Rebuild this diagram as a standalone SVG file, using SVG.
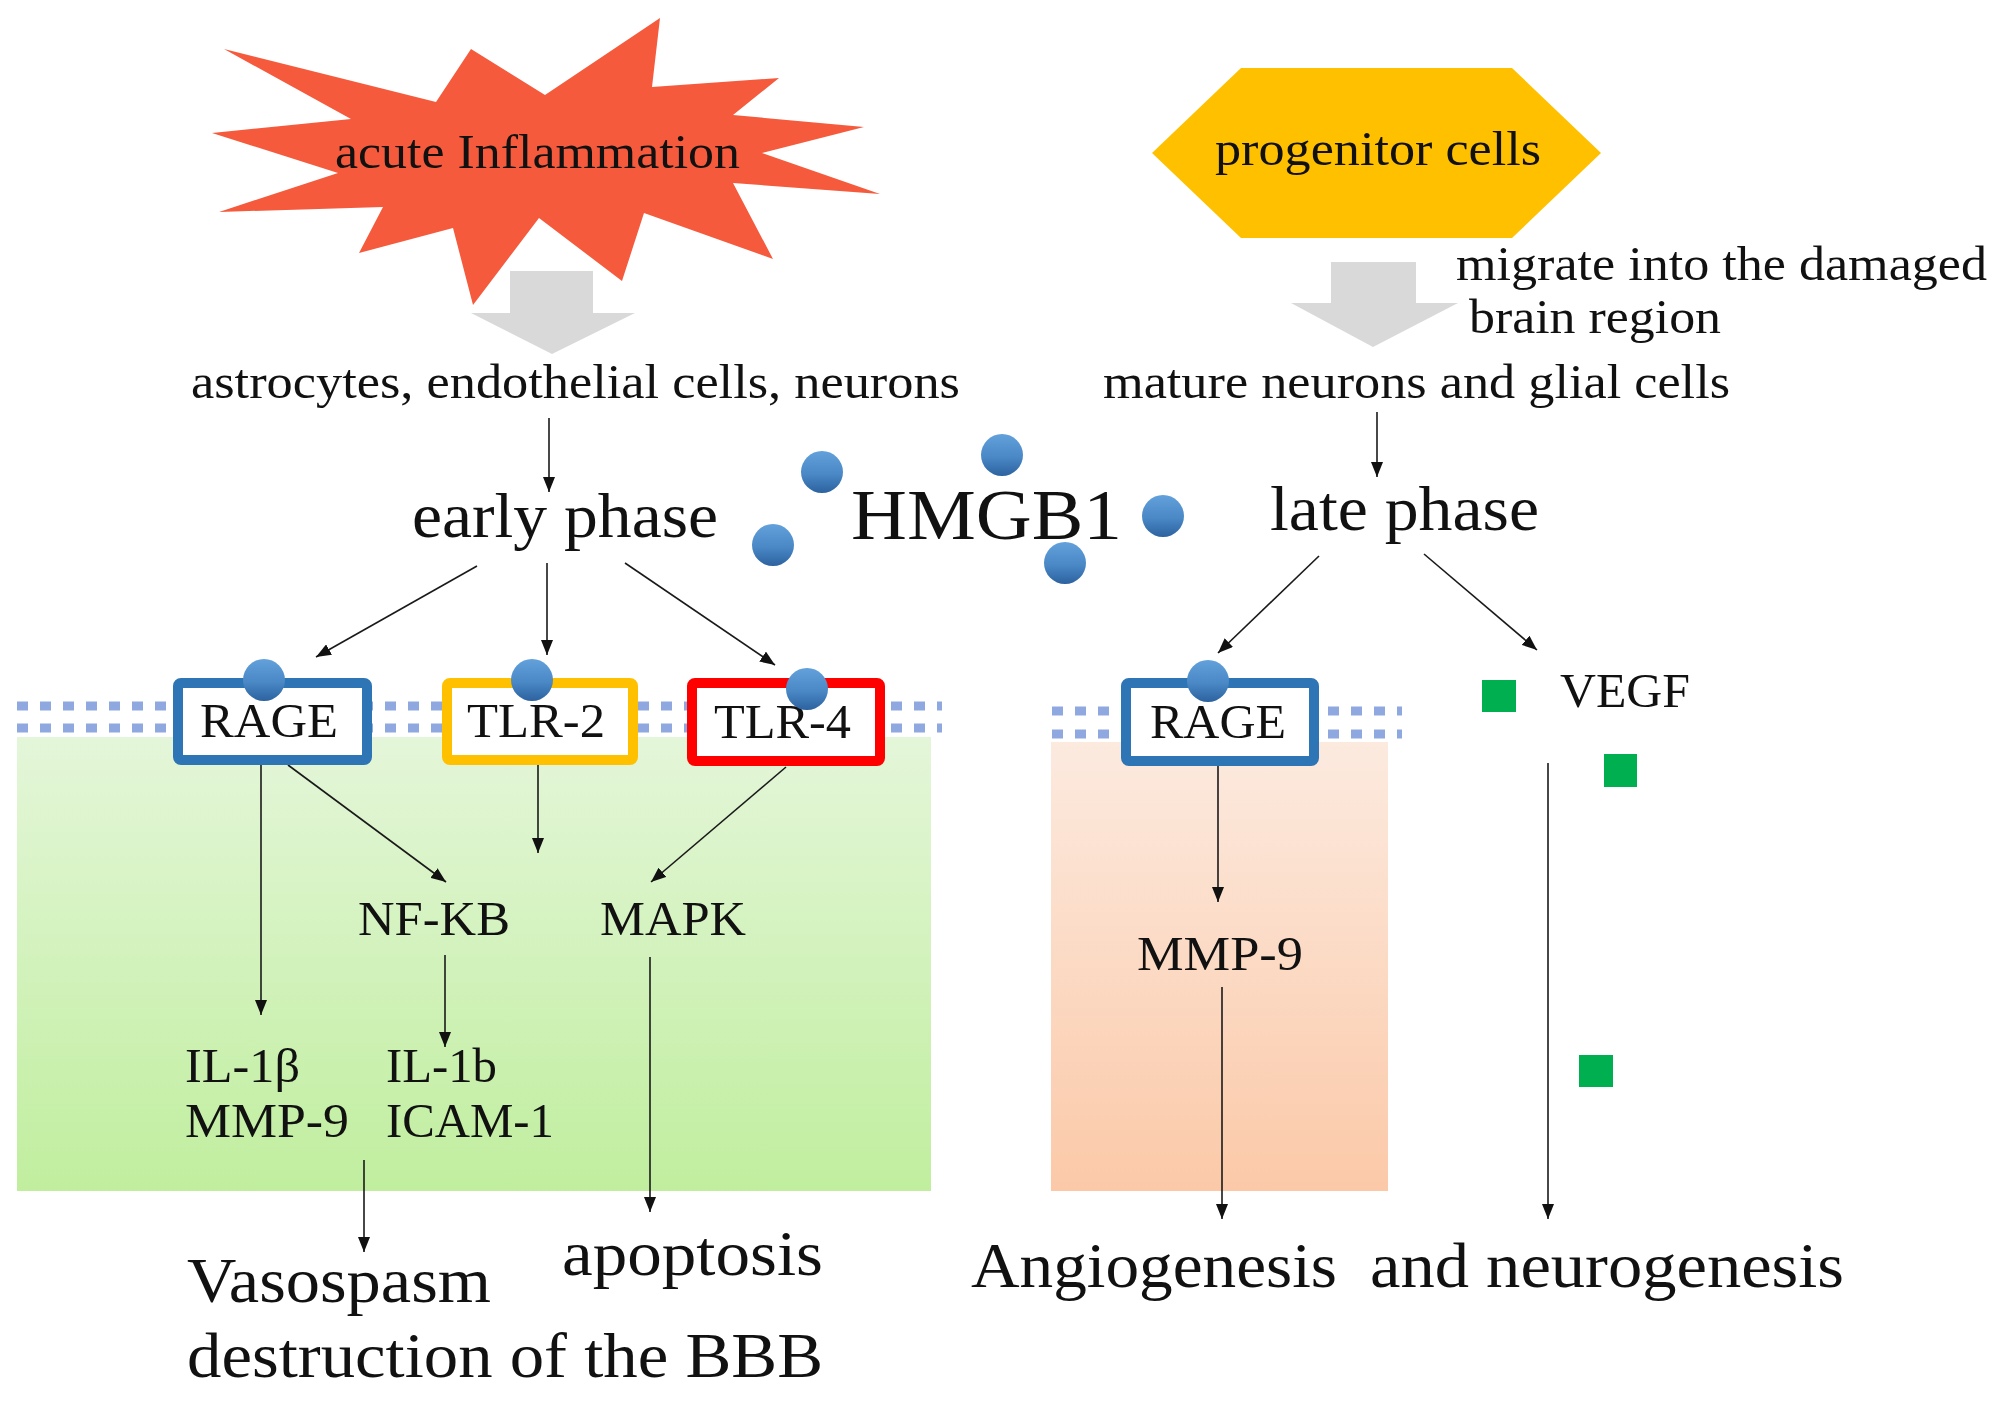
<svg xmlns="http://www.w3.org/2000/svg" width="2008" height="1401" viewBox="0 0 2008 1401">
<style>
text{font-family:"Liberation Serif","Times New Roman",serif;fill:#111}
.s{font-size:49px}
.m{font-size:48px}
.l{font-size:64px}
.con{stroke:#1a1a1a;stroke-width:1.6;fill:none;marker-end:url(#ah)}
.box{fill:#fff;stroke-width:10}
.mem{stroke:#8FA9E0;stroke-width:9;stroke-dasharray:11 12;fill:none}
.dot{fill:url(#dotg)}
.vg{fill:#00B050}
.garrow{fill:#D9D9D9}
</style>
<defs>
<marker id="ah" markerWidth="15" markerHeight="12" refX="15" refY="6" orient="auto" markerUnits="userSpaceOnUse"><path d="M0,0 L15,6 L0,12 z" fill="#111"/></marker>
<linearGradient id="dotg" x1="0" y1="0" x2="0" y2="1"><stop offset="0" stop-color="#62A1DB"/><stop offset="0.55" stop-color="#4A88C6"/><stop offset="1" stop-color="#2C629F"/></linearGradient>
<linearGradient id="greeng" x1="0" y1="0" x2="0" y2="1"><stop offset="0" stop-color="#E4F6D9"/><stop offset="1" stop-color="#C0EE9E"/></linearGradient>
<linearGradient id="peachg" x1="0" y1="0" x2="0" y2="1"><stop offset="0" stop-color="#FCEADF"/><stop offset="1" stop-color="#FBC9A8"/></linearGradient>
</defs>
<rect width="2008" height="1401" fill="#fff"/>

<!-- backgrounds -->
<g id="cell-early">
<rect x="17" y="737" width="914" height="454" fill="url(#greeng)"/>
<line class="mem" x1="17" y1="706" x2="942" y2="706"/>
<line class="mem" x1="17" y1="728" x2="942" y2="728"/>
</g>
<g id="cell-late">
<rect x="1051" y="742" width="337" height="449" fill="url(#peachg)"/>
<line class="mem" x1="1052" y1="711" x2="1402" y2="711"/>
<line class="mem" x1="1052" y1="734" x2="1402" y2="734"/>
</g>

<g id="acute-inflammation">
<polygon fill="#F65A3C" points="224,49 436,102 471,49 545,95 660,18 652,87 779,78 733,115 864,127 762,153 880,194 733,183 773,259 644,213 622,281 539,218 473,305 453,228 359,253 383,207 219,212 338,173 212,133 351,119"/>
<text class="s" x="335" y="168" textLength="405" lengthAdjust="spacingAndGlyphs">acute Inflammation</text>
</g>

<g id="progenitor-cells">
<polygon fill="#FFC000" points="1152,153 1241,68 1512,68 1601,153 1512,238 1241,238"/>
<text class="s" x="1215" y="165" textLength="326" lengthAdjust="spacingAndGlyphs">progenitor cells</text>
</g>

<g id="gray-arrow-left">
<polygon class="garrow" points="510,271 593,271 593,313 635,313 552,354 471,313 510,313"/>
</g>
<g id="gray-arrow-right">
<polygon class="garrow" points="1331,262 1416,262 1416,303 1458,303 1373,347 1291,303 1331,303"/>
</g>

<g id="migrate-label">
<text class="s" x="1456" y="280" textLength="531" lengthAdjust="spacingAndGlyphs">migrate into the damaged</text>
<text class="s" x="1469" y="333" textLength="252" lengthAdjust="spacingAndGlyphs">brain region</text>
</g>

<g id="astrocytes">
<text class="s" x="191" y="398" textLength="769" lengthAdjust="spacingAndGlyphs">astrocytes, endothelial cells, neurons</text>
</g>
<g id="mature-cells">
<text class="s" x="1103" y="398" textLength="627" lengthAdjust="spacingAndGlyphs">mature neurons and glial cells</text>
</g>

<g id="early-phase">
<text class="l" x="412" y="537" textLength="306" lengthAdjust="spacingAndGlyphs">early phase</text>
</g>
<g id="late-phase">
<text class="l" x="1270" y="530" textLength="269" lengthAdjust="spacingAndGlyphs">late phase</text>
</g>

<g id="hmgb1">
<text x="851" y="539" font-size="72" textLength="271" lengthAdjust="spacingAndGlyphs">HMGB1</text>
<circle class="dot" cx="822" cy="472" r="21"/>
<circle class="dot" cx="1002" cy="455" r="21"/>
<circle class="dot" cx="1163" cy="516" r="21"/>
<circle class="dot" cx="773" cy="545" r="21"/>
<circle class="dot" cx="1065" cy="563" r="21"/>
</g>

<g id="connectors">
<line class="con" x1="549" y1="418" x2="549" y2="492"/>
<line class="con" x1="477" y1="566" x2="316" y2="657"/>
<line class="con" x1="547" y1="563" x2="547" y2="655"/>
<line class="con" x1="625" y1="563" x2="775" y2="665"/>
<line class="con" x1="261" y1="765" x2="261" y2="1015"/>
<line class="con" x1="288" y1="765" x2="446" y2="882"/>
<line class="con" x1="538" y1="765" x2="538" y2="853"/>
<line class="con" x1="786" y1="767" x2="651" y2="882"/>
<line class="con" x1="445" y1="955" x2="445" y2="1047"/>
<line class="con" x1="650" y1="957" x2="650" y2="1212"/>
<line class="con" x1="364" y1="1160" x2="364" y2="1252"/>
<line class="con" x1="1377" y1="412" x2="1377" y2="477"/>
<line class="con" x1="1319" y1="556" x2="1218" y2="653"/>
<line class="con" x1="1424" y1="554" x2="1537" y2="650"/>
<line class="con" x1="1218" y1="766" x2="1218" y2="902"/>
<line class="con" x1="1222" y1="987" x2="1222" y2="1219"/>
<line class="con" x1="1548" y1="763" x2="1548" y2="1219"/>
</g>

<g id="rage-early">
<rect class="box" x="178" y="683" width="189" height="77" rx="3" stroke="#2E75B6"/>
<text class="m" x="200" y="737" textLength="138" lengthAdjust="spacingAndGlyphs">RAGE</text>
<circle class="dot" cx="264" cy="680" r="21"/>
</g>
<g id="tlr2">
<rect class="box" x="447" y="683" width="186" height="77" rx="3" stroke="#FFC000"/>
<text class="m" x="467" y="737" textLength="138" lengthAdjust="spacingAndGlyphs">TLR-2</text>
<circle class="dot" cx="532" cy="680" r="21"/>
</g>
<g id="tlr4">
<rect class="box" x="692" y="683" width="188" height="78" rx="3" stroke="#FF0000"/>
<text class="m" x="714" y="738" textLength="137" lengthAdjust="spacingAndGlyphs">TLR-4</text>
<circle class="dot" cx="807" cy="689" r="21"/>
</g>
<g id="rage-late">
<rect class="box" x="1126" y="683" width="188" height="78" rx="3" stroke="#2E75B6"/>
<text class="m" x="1150" y="738" textLength="136" lengthAdjust="spacingAndGlyphs">RAGE</text>
<circle class="dot" cx="1208" cy="681" r="21"/>
</g>

<g id="vegf">
<rect class="vg" x="1482" y="680" width="34" height="32"/>
<text class="m" x="1560" y="707" textLength="130" lengthAdjust="spacingAndGlyphs">VEGF</text>
<rect class="vg" x="1604" y="754" width="33" height="33"/>
<rect class="vg" x="1579" y="1055" width="34" height="32"/>
</g>

<g id="nfkb"><text class="m" x="358" y="935" textLength="152" lengthAdjust="spacingAndGlyphs">NF-KB</text></g>
<g id="mapk"><text class="m" x="600" y="935" textLength="146" lengthAdjust="spacingAndGlyphs">MAPK</text></g>
<g id="il1beta-mmp9">
<text class="m" x="185" y="1082" textLength="115" lengthAdjust="spacingAndGlyphs">IL-1β</text>
<text class="m" x="185" y="1137" textLength="164" lengthAdjust="spacingAndGlyphs">MMP-9</text>
</g>
<g id="il1b-icam1">
<text class="m" x="386" y="1082" textLength="111" lengthAdjust="spacingAndGlyphs">IL-1b</text>
<text class="m" x="386" y="1137" textLength="168" lengthAdjust="spacingAndGlyphs">ICAM-1</text>
</g>
<g id="mmp9-late"><text class="m" x="1137" y="970" textLength="166" lengthAdjust="spacingAndGlyphs">MMP-9</text></g>

<g id="vasospasm">
<text class="l" x="187" y="1302" textLength="304" lengthAdjust="spacingAndGlyphs">Vasospasm</text>
<text class="l" x="187" y="1377" textLength="636" lengthAdjust="spacingAndGlyphs">destruction of the BBB</text>
</g>
<g id="apoptosis"><text class="l" x="562" y="1275" textLength="261" lengthAdjust="spacingAndGlyphs">apoptosis</text></g>
<g id="angiogenesis">
<text class="l" y="1287"><tspan x="971" textLength="366" lengthAdjust="spacingAndGlyphs">Angiogenesis</tspan> <tspan x="1370" textLength="474" lengthAdjust="spacingAndGlyphs">and neurogenesis</tspan></text>
</g>
</svg>
